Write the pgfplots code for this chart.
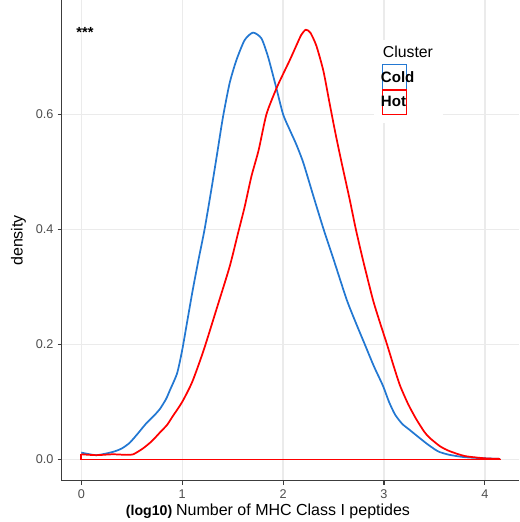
\documentclass[border=0pt]{standalone}
\usepackage{pgfplots}
\pgfplotsset{compat=1.18}
\usepackage{fontspec}
\setmainfont{Liberation Sans}
\definecolor{cblue}{RGB}{35,120,210}
\definecolor{cred}{RGB}{255,0,0}
\definecolor{gridc}{RGB}{235,235,235}
\definecolor{tickc}{RGB}{77,77,77}
\definecolor{axc}{RGB}{60,60,60}
\pgfplotstableread{
x y
0.00 0.012
0.15 0.0075
0.31 0.013
0.40 0.019
0.48 0.029
0.56 0.045
0.645 0.063
0.72 0.076
0.78 0.088
0.84 0.105
0.88 0.121
0.95 0.150
1.00 0.190
1.05 0.240
1.105 0.295
1.165 0.350
1.222 0.400
1.288 0.468
1.345 0.530
1.404 0.595
1.470 0.654
1.537 0.694
1.619 0.729
1.702 0.742
1.785 0.732
1.851 0.700
1.934 0.645
2.00 0.600
2.066 0.573
2.13 0.548
2.20 0.516
2.30 0.458
2.40 0.401
2.50 0.348
2.63 0.278
2.72 0.238
2.81 0.200
2.90 0.162
2.99 0.128
3.05 0.100
3.11 0.078
3.18 0.062
3.25 0.052
3.32 0.042
3.42 0.028
3.50 0.018
3.55 0.013
3.65 0.008
3.80 0.004
4.00 0.002
4.15 0.001
}\cold
\pgfplotstableread{
x y
0.00 0.009
0.15 0.0075
0.31 0.009
0.45 0.008
0.515 0.009
0.61 0.019
0.70 0.032
0.78 0.047
0.85 0.060
0.906 0.075
1.00 0.100
1.10 0.135
1.213 0.190
1.338 0.260
1.470 0.335
1.553 0.393
1.619 0.439
1.686 0.492
1.758 0.538
1.835 0.600
1.934 0.645
2.00 0.670
2.066 0.694
2.13 0.719
2.18 0.738
2.225 0.747
2.27 0.742
2.33 0.719
2.40 0.675
2.46 0.620
2.52 0.566
2.58 0.516
2.66 0.452
2.72 0.401
2.79 0.348
2.89 0.278
2.96 0.238
3.03 0.200
3.10 0.160
3.16 0.128
3.24 0.096
3.32 0.070
3.40 0.048
3.45 0.038
3.555 0.023
3.65 0.0145
3.80 0.006
4.00 0.002
4.15 0.001
}\hot
\pgfplotstableread{
x y
0 0.009
0 0
4.15 0
4.15 0.001
}\hotbase
\begin{document}
\begin{tikzpicture}[x=1pt,y=1pt]
\begin{axis}[
  at={(46.275pt,30.975pt)}, anchor=south west,
  scale only axis, width=342.975pt, height=360.525pt,
  xmin=-0.194, xmax=4.338, ymin=-0.0369, ymax=0.7987,
  axis line style={draw=none},
  xtick pos=bottom, ytick pos=left,
  xtick={0,1,2,3,4}, ytick={0,0.2,0.4,0.6},
  yticklabels={0.0,0.2,0.4,0.6},
  tick align=outside, major tick length=3pt,
  tick style={axc, line width=0.8pt},
  grid=major, major grid style={gridc, line width=1pt},
  /pgf/number format/assume math mode=true,
  ticklabel style={font=\fontsize{9.5}{11}\selectfont, text=tickc},
  xticklabel style={inner sep=0pt, yshift=-3.5pt},
  yticklabel style={inner sep=0pt, xshift=-3pt},
  xlabel={\fontsize{10.6}{12}\selectfont\textbf{(log10)} \fontsize{12}{14}\selectfont Number of MHC Class I peptides},
  ylabel={\fontsize{12}{14}\selectfont density},
  xlabel style={at={(axis description cs:0.451,0)}, anchor=center, yshift=-22.7pt, inner sep=0pt},
  ylabel style={at={(axis description cs:0,0.5)}, anchor=center, yshift=32.5pt, inner sep=0pt},
  clip=false,
]
\addplot[cblue, line width=1.3pt, smooth, tension=0.4] table {\cold};
\addplot[cred, line width=1.3pt, smooth, tension=0.4] table {\hot};
\addplot[draw=cred, line width=1.3pt, mark=none, forget plot] table[x=x, y=y] {\hotbase};
\node[font=\fontsize{11}{12}\selectfont\bfseries, inner sep=0pt] at (axis cs:0.037,0.742) {***};
\draw[axc, line width=0.8pt] (rel axis cs:0,1) -- (rel axis cs:0,0) -- (rel axis cs:1,0);
\end{axis}
% legend
\fill[white] (374*0.75,399*0.75) rectangle (442.7*0.75,482*0.75);
\draw[cblue, line width=1pt] (382.7*0.75,457.7*0.75) rectangle (406.7*0.75,432.7*0.75);
\draw[cred, line width=1pt] (382.7*0.75,432*0.75) rectangle (406.7*0.75,407.7*0.75);
\node[anchor=west, inner sep=0pt, font=\fontsize{11.85}{13}\selectfont] at (382.7*0.75,470.3*0.75) {Cluster};
\node[anchor=west, inner sep=0pt, font=\fontsize{11.3}{13}\selectfont\bfseries] at (380.7*0.75,445.3*0.75) {Cold};
\node[anchor=west, inner sep=0pt, font=\fontsize{11.3}{13}\selectfont\bfseries] at (380.7*0.75,420.3*0.75) {Hot};
\pgfresetboundingbox
\path (0,0) rectangle (389.25,391.5);
\end{tikzpicture}
\end{document}
